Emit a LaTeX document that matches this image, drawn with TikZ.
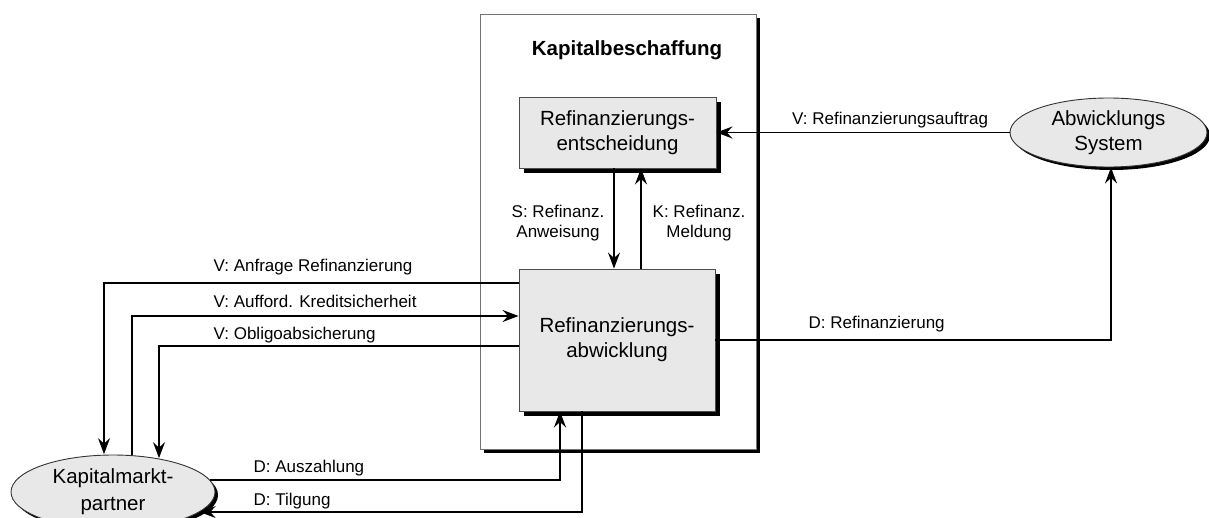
\documentclass[tikz,border=0pt]{standalone}
\usepackage{fontspec}
\setmainfont{Liberation Sans}
\usetikzlibrary{shapes.geometric,arrows.meta,shadows}

\definecolor{panelgray}{HTML}{E8E8E8}
\newcommand\nodetxt{\fontsize{20.5}{25}\selectfont}
\newcommand\flowtxt{\fontsize{17}{20}\selectfont}

\begin{document}
\begin{tikzpicture}[x=1pt,y=-1pt,
  line width=1.3pt,
  arr/.style={-{Stealth[length=16pt,width=12pt,inset=5.5pt]}},
  frame/.style={rectangle,draw=black!55,line width=0.8pt,fill=white,
    minimum width=276pt,minimum height=435pt,
    drop shadow={shadow xshift=4pt,shadow yshift=-4pt,fill=black,opacity=1}},
  proc/.style={rectangle,draw=black!70,line width=0.9pt,fill=panelgray,
    inner sep=0pt,align=center,font=\nodetxt,
    drop shadow={shadow xshift=5pt,shadow yshift=-5pt,fill=black,opacity=1}},
  ext/.style={ellipse,draw=black!80,line width=0.9pt,fill=panelgray,
    inner sep=0pt,align=center,font=\nodetxt,
    drop shadow={shadow xshift=3pt,shadow yshift=-3pt,fill=black,opacity=1}},
  flow/.style={font=\flowtxt,inner sep=0pt},
]
\useasboundingbox (0,0) rectangle (1209,517);
\clip (0,0) rectangle (1209,517);

% subsystem frame and its title
\node[frame] (frame) at (618,231.5) {};
\node[font=\nodetxt\bfseries] (title) at (627,50) {Kapitalbeschaffung};

% processes
\node[proc,minimum width=197pt,minimum height=71pt] (ent) at (617.5,132.5)
  {Refinanzierungs-\\entscheidung};
\node[proc,minimum width=196pt,minimum height=142pt] (abw) at (617,340)
  {Refinanzierungs-\\abwicklung};

% external partners
\node[ext,minimum width=197pt,minimum height=69pt] (abs) at (1108.5,132.5)
  {Abwicklungs\\System};
\node[ext,minimum width=204pt,minimum height=74pt,
  font=\fontsize{20.5}{27}\selectfont] (kap) at (113,492)
  {Kapitalmarkt-\\partner};

% flows inside the subsystem
\draw[arr] (abs.west) -- (ent.east);
\draw[arr] ([xshift=-3.5pt]ent.south) -- ([xshift=-3pt]abw.north);
\draw[arr] ([xshift=24pt]abw.north) -- ([xshift=23.5pt]ent.south);
\draw[arr] (abw.east) -| ([xshift=2.5pt]abs.south);

% flows to and from the capital market partner
\draw[arr] ([yshift=57pt]abw.west) -| ([xshift=-9pt,yshift=37.9pt]kap.center);
\draw[arr] ([xshift=19pt,yshift=37.3pt]kap.center) |- ([yshift=24pt]abw.west);
\draw[arr] ([yshift=-6pt]abw.west) -| ([xshift=46pt,yshift=33.9pt]kap.center);
\draw[arr] ([xshift=96.8pt,yshift=12pt]kap.center) -| ([xshift=-57pt]abw.south);
\draw[arr] ([xshift=-35pt]abw.south) |- ([xshift=86.7pt,yshift=-20pt]kap.center);

% flow labels
\node[flow,anchor=base west] (l1) at (791.5,124) {V: Refinanzierungsauftrag};
\node[flow,align=center] (l2) at (558,223) {S: Refinanz.\\Anweisung};
\node[flow,align=center] (l3) at (699,223) {K: Refinanz.\\Meldung};
\node[flow,anchor=base west] (l4) at (808,328) {D: Refinanzierung};
\node[flow,anchor=base west] (l5) at (213,271.5) {V: Anfrage Refinanzierung};
\node[flow,anchor=base west] (l6) at (213,307) {V: Aufford. Kreditsicherheit};
\node[flow,anchor=base west] (l7) at (213,339.5) {V: Obligoabsicherung};
\node[flow,anchor=base west] (l8) at (253,472) {D: Auszahlung};
\node[flow,anchor=base west] (l9) at (253,505) {D: Tilgung};
\end{tikzpicture}
\end{document}
